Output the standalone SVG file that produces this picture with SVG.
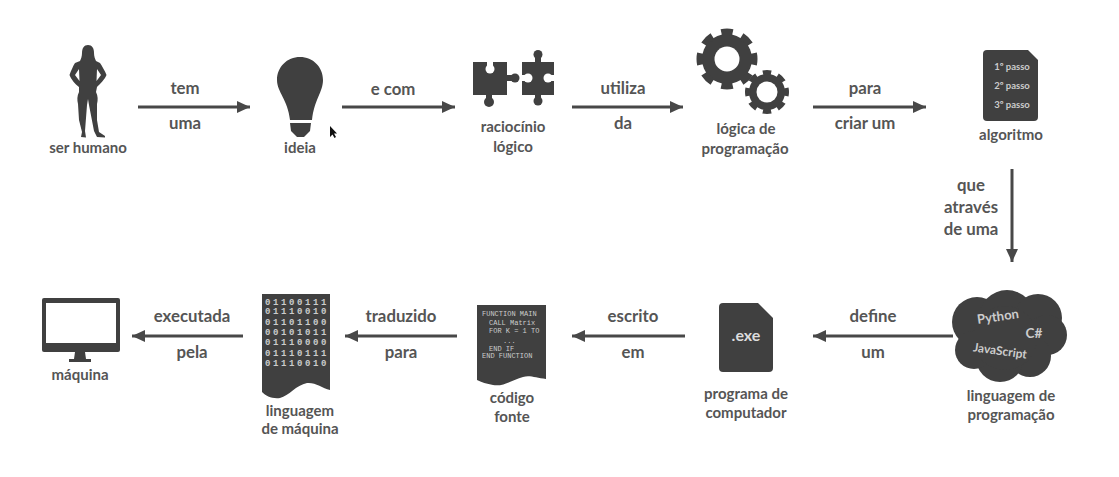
<svg xmlns="http://www.w3.org/2000/svg" width="1119" height="477" viewBox="0 0 1119 477">
<style>
text{font-family:"Lato","Open Sans","Liberation Sans",sans-serif;font-weight:700;text-anchor:middle}
.n{font-size:15px;fill:#555}
.c{font-size:16.8px;fill:#555}
.i{fill:#404040}
.w{fill:#fff}
.p{font-size:9.5px;fill:#ccc}
.m{font-family:"Liberation Mono",monospace;font-size:7px;fill:#ccc;text-anchor:start;font-weight:400}
.b{font-family:"Liberation Mono",monospace;font-size:9px;fill:#ccc;font-weight:700;letter-spacing:2.6px}
.a{stroke:#484848;stroke-width:3;fill:none;marker-end:url(#h)}
</style>
<defs>
<marker id="h" markerUnits="userSpaceOnUse" markerWidth="14" markerHeight="14" refX="13" refY="7" orient="auto"><path d="M0 1 L13 7 L0 13 Z" fill="#484848"/></marker>
</defs>
<rect width="1119" height="477" fill="#fff"/>
<g id="connectors">
<path class="a" d="M138 107H250"/>
<path class="a" d="M342 107H455"/>
<path class="a" d="M572 107H683"/>
<path class="a" d="M813 107H926"/>
<path class="a" d="M1012 169V262"/>
<path class="a" d="M953 336H813"/>
<path class="a" d="M685 336H572"/>
<path class="a" d="M457 336H345"/>
<path class="a" d="M243 336H132"/>
<text class="c" x="185" y="94">tem</text>
<text class="c" x="185" y="129">uma</text>
<text class="c" x="393" y="95">e com</text>
<text class="c" x="623" y="94">utiliza</text>
<text class="c" x="623" y="129">da</text>
<text class="c" x="865" y="94">para</text>
<text class="c" x="865" y="129">criar um</text>
<text class="c" x="971" y="191">que</text>
<text class="c" x="971" y="213">através</text>
<text class="c" x="971" y="235">de uma</text>
<text class="c" x="873" y="322">define</text>
<text class="c" x="873" y="358">um</text>
<text class="c" x="633" y="322">escrito</text>
<text class="c" x="633" y="358">em</text>
<text class="c" x="401" y="322">traduzido</text>
<text class="c" x="401" y="358">para</text>
<text class="c" x="192" y="322">executada</text>
<text class="c" x="192" y="358">pela</text>
</g>
<g id="ser-humano">
<path class="i" fill-rule="evenodd" d="M88 45C92 45 94 48 94 53C94 56 95 59 96 61L100 63C102 66 105 71 106.500 75C105 79 100 84 97 87L96 92C98 96 98 100 97 104L97 120L99 132L105 136L105 137.500L97 137L94 131L89 105L88 99L87 105L85 131L86 137.500L81 137L82 132L79 120L78 104C77 100 77 96 79 92L79 87C75 84 71 79 69.500 75C71 71 73 66 75 63L80 61C81 59 82 56 82 53C82 48 84 45 88 45ZM75 75L79 69L79.500 81ZM101 75L97 69L96.500 81Z"/>
<text class="n" x="88" y="153">ser humano</text>
</g>
<g id="ideia">
<path class="i" d="M300 57C313 57 323 67 323 80C323 92 314 100 312 120L290 120C288 100 277 92 277 80C277 67 287 57 300 57Z"/>
<path class="i" d="M290 123H311L310 131L304 137H297L291 131Z"/>
<text class="n" x="300" y="153">ideia</text>
</g>
<g id="cursor"><path d="M330 126V137L332.500 134.500L334.500 138L336 137L334 133.500H337Z" fill="#111"/></g>
<g id="raciocinio-logico">
<rect class="i" x="473" y="62" width="34" height="33"/>
<rect class="i" x="507" y="75" width="6" height="6"/>
<circle class="i" cx="515" cy="78" r="4.500"/>
<rect class="i" x="486" y="95" width="6" height="6"/>
<circle class="i" cx="489" cy="102" r="5"/>
<rect class="w" x="487" y="61" width="6" height="5"/>
<circle class="w" cx="490" cy="69" r="4.500"/>
<rect class="i" x="522" y="62" width="32" height="33"/>
<rect class="i" x="535" y="56" width="6" height="6"/>
<circle class="i" cx="538" cy="54.500" r="4.500"/>
<rect class="i" x="535" y="95" width="6" height="6"/>
<circle class="i" cx="538" cy="101" r="4.500"/>
<rect class="w" x="521" y="75" width="5" height="6"/>
<circle class="w" cx="528" cy="78" r="4.500"/>
<rect class="w" x="550" y="75" width="5" height="6"/>
<circle class="w" cx="548" cy="78" r="4.500"/>
<text class="n" x="513" y="132">raciocínio</text>
<text class="n" x="513" y="152">lógico</text>
</g>
<g id="logica-de-programacao">
<circle class="i" cx="727" cy="59" r="25"/>
<circle cx="727" cy="59" r="27" fill="none" stroke="#404040" stroke-width="7" pathLength="8" stroke-dasharray="0.55 0.45" stroke-dashoffset="0.275"/>
<circle class="w" cx="727" cy="59" r="12.500"/>
<circle class="w" cx="767" cy="92" r="21"/>
<circle class="i" cx="767" cy="92" r="18"/>
<circle cx="767" cy="92" r="19.500" fill="none" stroke="#404040" stroke-width="5" pathLength="8" stroke-dasharray="0.55 0.45" stroke-dashoffset="0.275"/>
<circle class="w" cx="767" cy="92" r="10.500"/>
<text class="n" x="746" y="134">lógica de</text>
<text class="n" x="745" y="154">programação</text>
</g>
<g id="algoritmo">
<path class="i" d="M987 50H1028L1038 60V117Q1038 121 1034 121H987Q983 121 983 117V54Q983 50 987 50Z"/>
<text class="p" x="1012" y="70">1º passo</text>
<text class="p" x="1012" y="89">2º passo</text>
<text class="p" x="1012" y="108">3º passo</text>
<text class="n" x="1011" y="140">algoritmo</text>
</g>
<g id="linguagem-de-programacao">
<circle class="i" cx="977" cy="322" r="25"/>
<circle class="i" cx="1007" cy="318" r="28"/>
<circle class="i" cx="1038" cy="318" r="24"/>
<circle class="i" cx="1047" cy="335" r="20"/>
<circle class="i" cx="1030" cy="356" r="21"/>
<circle class="i" cx="1000" cy="358" r="24"/>
<circle class="i" cx="974" cy="350" r="19"/>
<circle class="i" cx="1005" cy="338" r="32"/>
<text x="998" y="321" font-size="13" fill="#ccc" transform="rotate(-8 998 317)">Python</text>
<text x="1034" y="338" font-size="13.500" fill="#ccc">C#</text>
<text x="1000" y="355" font-size="12" fill="#ccc" transform="rotate(8 1000 351)">JavaScript</text>
<text class="n" x="1011" y="401">linguagem de</text>
<text class="n" x="1011" y="420">programação</text>
</g>
<g id="programa-de-computador">
<path class="i" d="M723 303H758L773 318V368Q773 372 769 372H723Q719 372 719 368V307Q719 303 723 303Z"/>
<text x="746" y="341" font-size="16" fill="#ddd">.exe</text>
<text class="n" x="746" y="399">programa de</text>
<text class="n" x="746" y="418">computador</text>
</g>
<g id="codigo-fonte">
<path class="i" d="M477 305H546V379C536 378 530 375 523 377C512 380 503 387 493 385C487 384 481 382 477 380Z"/>
<text class="m" x="482" y="316">FUNCTION MAIN</text>
<text class="m" x="489" y="325">CALL Matrix</text>
<text class="m" x="489" y="333">FOR K = 1 TO</text>
<text class="m" x="503" y="343">...</text>
<text class="m" x="489" y="351">END IF</text>
<text class="m" x="482" y="358">END FUNCTION</text>
<text class="n" x="512" y="403">código</text>
<text class="n" x="512" y="422">fonte</text>
</g>
<g id="linguagem-de-maquina">
<path class="i" d="M262 294H330V390C322 388 315 382 307 383C296 385 289 396 280 398C272 399 266 396 262 392Z"/>
<text class="b" x="297" y="305">01100111</text>
<text class="b" x="297" y="314">01110010</text>
<text class="b" x="297" y="325">01101100</text>
<text class="b" x="297" y="335">00101011</text>
<text class="b" x="297" y="345">01110000</text>
<text class="b" x="297" y="356">01110111</text>
<text class="b" x="297" y="366">01110010</text>
<text class="n" x="300" y="416">linguagem</text>
<text class="n" x="300" y="434">de máquina</text>
</g>
<g id="maquina">
<rect class="i" x="42" y="298" width="78" height="54" rx="2"/>
<rect class="w" x="46" y="303" width="70" height="40"/>
<path class="i" d="M75 352H85L86 359H91V362H69V359H74Z"/>
<text class="n" x="80" y="380">máquina</text>
</g>
</svg>
